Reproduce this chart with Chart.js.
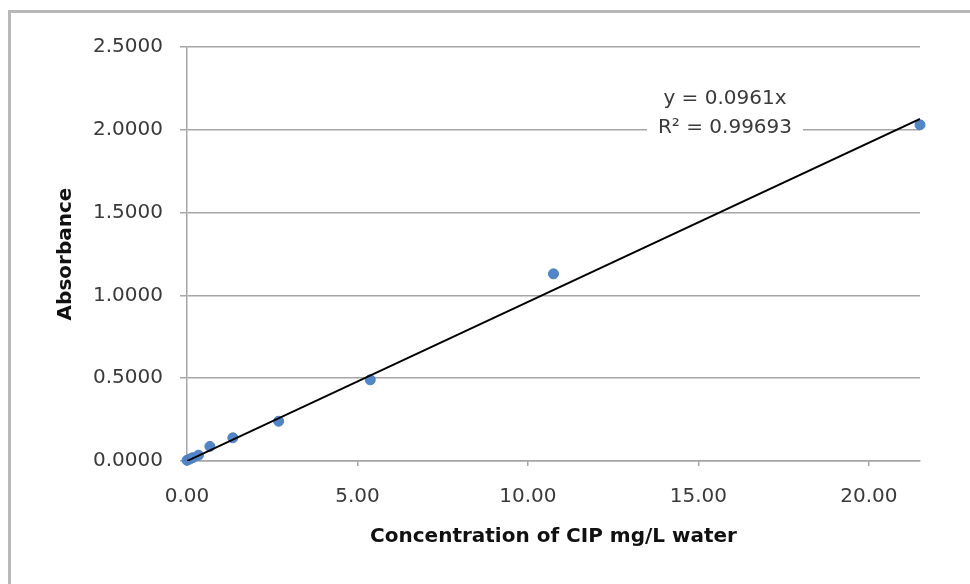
<!DOCTYPE html>
<html><head><meta charset="utf-8">
<script src="https://cdn.jsdelivr.net/npm/chart.js@4"></script>
<style>
html,body{margin:0;padding:0;background:#fff;overflow:hidden}
#wrap{position:relative;width:970px;height:584px}
#frame{position:absolute;left:8px;top:10px;width:1000px;height:700px;border-left:3px solid #b8b8b8;border-top:3px solid #b8b8b8;box-sizing:border-box}
canvas{position:absolute;left:0;top:0}
</style></head><body>
<div id="wrap"><div id="frame"></div><canvas id="c" width="970" height="584"></canvas></div>
<script>
// ---- data ----
const concentration = [0, 0.084, 0.168, 0.336, 0.672, 1.344, 2.6875, 5.375, 10.75, 21.5];
const absorbance    = [0.004, 0.012, 0.020, 0.035, 0.088, 0.140, 0.240, 0.490, 1.130, 2.030];
const xTicks = [0, 5, 10, 15, 20];
const yTicks = [0, 0.5, 1.0, 1.5, 2.0, 2.5];
const xRange = [0, 21.5];
const yRange = [0, 2.5];
const trendSlope = 0.0961;
const trendX = [0, 21.5];
const equationLines = ['y = 0.0961x', 'R\u00B2 = 0.99693'];
const equationAnchor = {x: 15.78, y: [2.19, 2.01]};
const xTitle = 'Concentration of CIP mg/L water';
const yTitle = 'Absorbance';

const FONT = "'DejaVu Sans', sans-serif";
Chart.defaults.font.family = FONT;

const points = concentration.map((x, i) => ({x, y: absorbance[i]}));
const trend = trendX.map(x => ({x, y: trendSlope * x}));

const equationPlugin = {
  id: 'equation',
  afterDatasetsDraw(chart) {
    const {ctx, scales} = chart;
    const cx = scales.x.getPixelForValue(equationAnchor.x);
    ctx.save();
    ctx.font = "20px " + FONT;
    ctx.textAlign = 'center';
    ctx.textBaseline = 'middle';
    equationLines.forEach((t, i) => {
      const cy = scales.y.getPixelForValue(equationAnchor.y[i]);
      const w = ctx.measureText(t).width + 22;
      ctx.fillStyle = '#fff';
      ctx.fillRect(cx - w / 2, cy - 11, w, 22);
    });
    ctx.fillStyle = '#3a3a3a';
    equationLines.forEach((t, i) => {
      const cy = scales.y.getPixelForValue(equationAnchor.y[i]);
      ctx.fillText(t, cx, cy);
    });
    ctx.restore();
  }
};

new Chart(document.getElementById('c'), {
  type: 'scatter',
  data: {
    datasets: [
      {
        label: 'Absorbance',
        data: points,
        backgroundColor: '#5087cb',
        borderColor: '#4a7fc0',
        borderWidth: 1,
        pointRadius: 5,
        clip: false,
        order: 2
      },
      {
        type: 'line',
        label: 'Linear',
        data: trend,
        borderColor: '#000',
        borderWidth: 2,
        pointRadius: 0,
        fill: false,
        order: 1
      }
    ]
  },
  options: {
    responsive: false,
    animation: false,
    events: [],
    layout: {padding: {left: 0, top: 47, right: 50, bottom: 0}},
    plugins: {legend: {display: false}, tooltip: {enabled: false}},
    scales: {
      x: {
        type: 'linear',
        min: xRange[0], max: xRange[1],
        afterBuildTicks: s => { s.ticks = xTicks.map(v => ({value: v})); },
        afterFit: s => { s.height = 123; },
        border: {display: true, color: '#a6a6a6', width: 1.5},
        grid: {drawOnChartArea: false, drawTicks: true, tickLength: 5, color: '#a6a6a6', lineWidth: 1.5},
        ticks: {callback: v => Number(v).toFixed(2), padding: 19, color: '#3a3a3a', font: {size: 20}, maxRotation: 0},
        title: {display: true, text: xTitle, color: '#111', font: {size: 20, weight: 'bold'}, padding: {top: 0, bottom: 35}}
      },
      y: {
        type: 'linear',
        min: yRange[0], max: yRange[1],
        afterBuildTicks: s => { s.ticks = yTicks.map(v => ({value: v})); },
        afterFit: s => { s.width = 187; },
        border: {display: true, color: '#a6a6a6', width: 1.5},
        grid: {color: '#a6a6a6', lineWidth: 1.5, drawTicks: true, tickLength: 7},
        ticks: {callback: v => Number(v).toFixed(4), padding: 17, color: '#3a3a3a', font: {size: 20}},
        title: {display: true, text: yTitle, color: '#111', font: {size: 20, weight: 'bold'}, padding: {top: 54, bottom: 0}}
      }
    }
  },
  plugins: [equationPlugin]
});
</script>
</body></html>
